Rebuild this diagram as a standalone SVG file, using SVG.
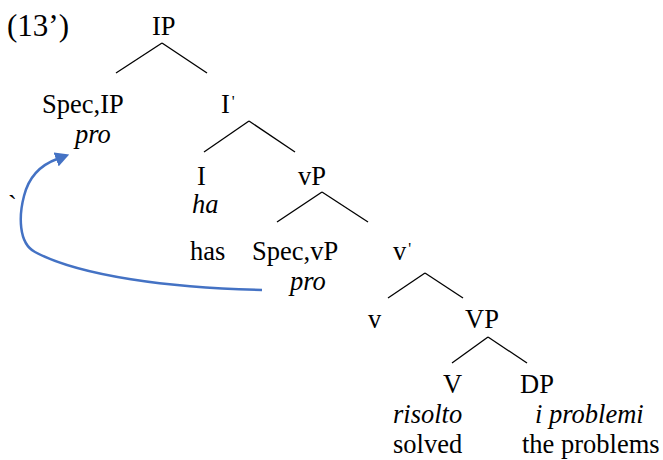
<svg xmlns="http://www.w3.org/2000/svg" width="663" height="460" viewBox="0 0 663 460">
<style>
text{font-family:"Liberation Serif","Times New Roman",serif;font-size:26.5px;fill:#000}
.i{font-style:italic}
.tk{font-size:16px}
.ex{font-size:31px}
#edges line{stroke:#000;stroke-width:1.3}
.mv{fill:none;stroke:#4472C4;stroke-width:2.5}
</style>
<defs>
<marker id="ah" viewBox="0 0 14 15" refX="1" refY="7.5" markerWidth="14" markerHeight="15" orient="auto" markerUnits="userSpaceOnUse">
<path d="M0,0 L14,7.5 L0,15 z" fill="#4472C4"/>
</marker>
</defs>
<text class="ex" x="7" y="36">(13’)</text>
<g id="edges">
<line x1="162" y1="43" x2="116" y2="73"/>
<line x1="162" y1="43" x2="207" y2="73"/>
<line x1="249" y1="121" x2="204" y2="152"/>
<line x1="249" y1="121" x2="295" y2="152"/>
<line x1="322" y1="192" x2="277" y2="222"/>
<line x1="322" y1="192" x2="368" y2="222"/>
<line x1="425" y1="273" x2="388" y2="298"/>
<line x1="425" y1="273" x2="463" y2="298"/>
<line x1="488" y1="337" x2="452" y2="363"/>
<line x1="488" y1="337" x2="527" y2="363"/>
<path class="mv" d="M262,290 C170,288 80,276 35,252 C18,243 19,215 24,196 C28,180 38,166 57,159" marker-end="url(#ah)"/>
</g>
<g id="n-IP"><text x="152" y="35">IP</text></g>
<g id="n-SpecIP"><text x="42" y="113">Spec,IP</text><text class="i" x="75" y="143">pro</text></g>
<g id="n-Ibar"><text x="221" y="113">I<tspan class="tk" dx="2" dy="-6">'</tspan></text></g>
<g id="n-I"><text x="197" y="185">I</text><text class="i" x="192" y="213">ha</text><text x="190" y="260">has</text></g>
<g id="n-vP"><text x="298" y="185">vP</text></g>
<g id="n-SpecvP"><text x="252" y="260">Spec,vP</text><text class="i" x="290" y="290">pro</text></g>
<g id="n-vbar"><text x="393" y="260">v<tspan class="tk" dx="2" dy="-6">'</tspan></text></g>
<g id="n-v"><text x="368" y="328">v</text></g>
<g id="n-VP"><text x="465" y="328">VP</text></g>
<g id="n-V"><text x="443" y="393">V</text><text class="i" x="393" y="423">risolto</text><text x="393" y="453">solved</text></g>
<g id="n-DP"><text x="520" y="393">DP</text><text class="i" x="535" y="423">i problemi</text><text x="522" y="453">the problems</text></g>
<text x="8" y="214">`</text>
</svg>
